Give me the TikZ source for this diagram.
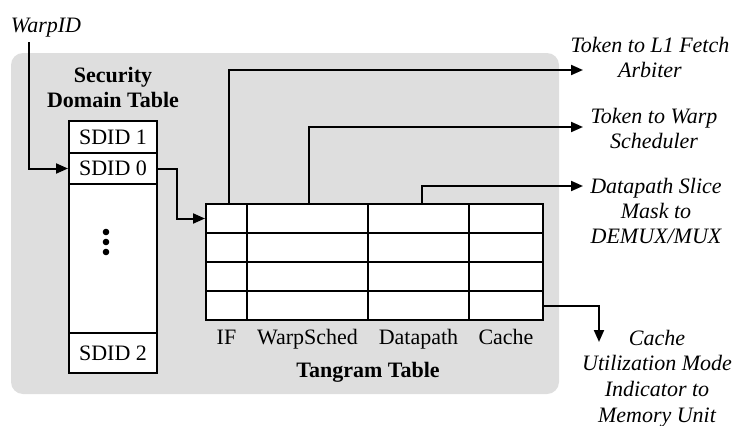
\documentclass[tikz,border=0pt]{standalone}
\usepackage{fontspec}
\setmainfont{Liberation Serif}
\usetikzlibrary{arrows.meta,calc}
\definecolor{bgc}{RGB}{222,222,222}
\begin{document}
\begin{tikzpicture}[x=1pt,y=-1pt,line width=2pt,
  txt/.style={font=\fontsize{22}{24.5}\selectfont, inner sep=0pt},
  lbl/.style={inner sep=0pt, font=\fontsize{22}{24.8}\selectfont\itshape, align=center, anchor=base},
  ttl/.style={inner sep=0pt, font=\fontsize{22}{25}\selectfont\bfseries, align=center, anchor=base},
  cell/.style={draw, fill=white, inner sep=0pt, font=\fontsize{22}{24.5}\selectfont},
  arr/.style={-{Triangle[length=12pt,width=10pt]}}]
\useasboundingbox (0,0) rectangle (732,426);
\fill[bgc, rounded corners=12pt] (11,53) rectangle (559,394);
% Security domain table
\node[ttl] (sdtitle) at (113,107) {Security\\Domain Table};
\node[cell, minimum width=88pt, minimum height=32pt] (sd1) at (113,137) {SDID 1};
\node[cell, minimum width=88pt, minimum height=31pt] (sd0) at (113,168.5) {SDID 0};
\node[cell, minimum width=88pt, minimum height=149pt] (sdm) at (113,258.5) {};
\node[cell, minimum width=88pt, minimum height=40pt] (sd2) at (113,353) {SDID 2};
\foreach \yy in {232,242,252} \fill (106,\yy) circle (3.3pt);
% Tangram table
\foreach \r/\yt/\yb in {1/204/233, 2/233/262, 3/262/291, 4/291/320}
  \foreach \c/\xl/\xr in {1/206/247, 2/247/368, 3/368/469, 4/469/543}
    \node[cell, minimum width={\xr-\xl}, minimum height={\yb-\yt}] (c-\r-\c) at ({(\xl+\xr)/2},{(\yt+\yb)/2}) {};
\node[txt, anchor=base] (lif) at (226.5,344) {IF};
\node[txt, anchor=base] (lws) at (307.5,344) {WarpSched};
\node[txt, anchor=base] (ldp) at (418.5,344) {Datapath};
\node[txt, anchor=base] (lca) at (506,344) {Cache};
\node[ttl] (tttitle) at (368,377) {Tangram Table};
% WarpID
\node[lbl] (warpid) at (46,32) {WarpID};
\coordinate (wstart) at (29,42);
\draw[arr] (wstart) |- (sd0.west);
\draw[arr] (sd0.east) -- ++(19,0) |- (c-1-1.west);
% outputs
\coordinate (a1) at (583,70);
\coordinate (a2) at (583,127);
\coordinate (a3) at (583,186);
\coordinate (a4) at (599,342);
\draw[arr] ([xshift=2.5pt]c-1-1.north) |- (a1);
\draw[arr] ([xshift=1.5pt]c-1-2.north) |- (a2);
\draw[arr] ([xshift=3.5pt]c-1-3.north) |- (a3);
\draw[arr] (c-4-4.east) -| (a4);
\node[lbl] (o1) at (650,77) {Token to L1 Fetch\\Arbiter};
\node[lbl] (o2) at (654,148) {Token to Warp\\Scheduler};
\node[lbl] (o3) at (656,243) {Datapath Slice\\Mask to\\DEMUX/MUX};
\node[lbl, font=\fontsize{22}{25.6}\selectfont\itshape] (o4) at (657,422) {Cache\\Utilization Mode\\Indicator to\\Memory Unit};
\end{tikzpicture}
\end{document}
